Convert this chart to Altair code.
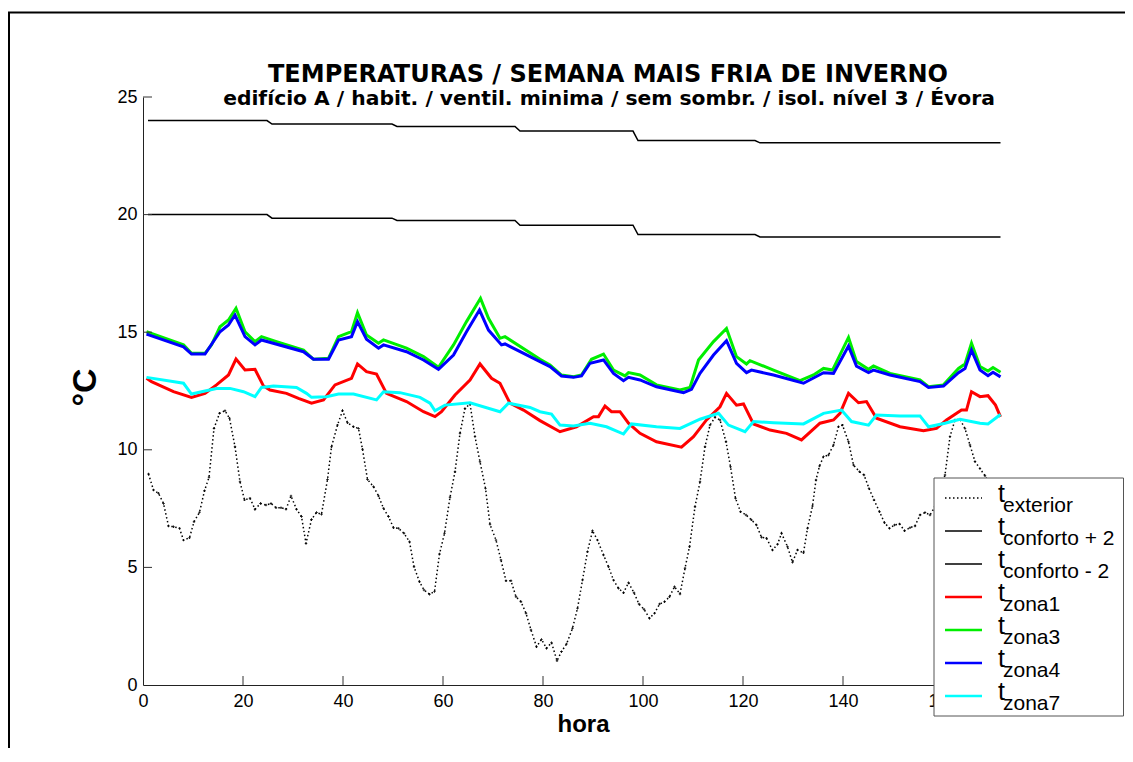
import altair as alt
import pandas as pd

TITLE = "TEMPERATURAS / SEMANA MAIS FRIA DE INVERNO"
SUBTITLE = "edifício A / habit. / ventil. minima / sem sombr. / isol. nível 3 / Évora"
X_TITLE = "hora"
Y_TITLE = "°C"

SERIES = ["exterior", "conforto + 2", "conforto - 2", "zona1", "zona3", "zona4", "zona7"]
LEG_MAIN = ["t", "t", "t", "t", "t", "t", "t"]
LEG_SUB = ["exterior", "conforto + 2", "conforto - 2", "zona1", "zona3", "zona4", "zona7"]
COLORS = ["#000000", "#000000", "#000000", "#ff0000", "#00ee00", "#0000ff", "#00ffff"]

X_TICKS = [0, 20, 40, 60, 80, 100, 120, 140, 160]
Y_TICKS = [0, 5, 10, 15, 20, 25]

# --- series (hour, °C) ---
ext_h = [1.1, 2.1, 3.1, 4.1, 5.1, 6.1, 7.3, 8.1, 9.3, 10.2, 11.3, 12.3, 13.2, 14.2, 15.3, 16.4, 17.3, 18.4, 19.4,
         20.3, 21.4, 22.4, 23.5, 24.6, 25.6, 26.6, 27.6, 28.6, 29.6, 30.7, 31.7, 32.6, 33.7, 34.7, 35.7, 36.9,
         37.7, 38.9, 39.9, 40.9, 42.1, 43.1, 43.9, 44.9, 46.1, 47.1, 48.1, 49.1, 50.1, 51.1, 52.2, 53.3, 54.2,
         55.3, 56.2, 57.3, 58.3, 59.3, 60.3, 61.4, 62.4, 63.4, 64.4, 65.4, 66.4, 67.4, 68.5, 69.4, 70.6, 71.6,
         72.6, 73.6, 74.6, 75.6, 76.6, 77.6, 78.7, 79.7, 80.7, 81.7, 82.8, 83.7, 84.7, 85.9, 86.9, 87.9, 88.9,
         89.9, 90.9, 92.1, 93.1, 94.1, 95.1, 96.1, 97.1, 98.2, 99.2, 100.2, 101.3, 102.3, 103.3, 104.3, 105.3,
         106.3, 107.4, 108.4, 109.3, 110.4, 111.4, 112.4, 113.4, 114.4, 115.4, 116.6, 117.5, 118.5, 119.5,
         120.6, 121.7, 122.7, 123.7, 124.7, 125.9, 126.9, 127.7, 128.9, 129.9, 130.9, 132.1, 132.9, 133.9,
         134.6, 135.3, 136.1, 137.1, 138.1, 139.1, 139.9, 141.1, 142.1, 143.3, 144.2, 145.2, 146.2, 147.3,
         148.3, 149.3, 150.3, 151.3, 152.3, 153.4, 154.4, 155.4, 156.4, 157.4, 158.4, 160.4, 161.4, 162.4,
         163.4, 164.4, 165.4, 166.4, 167.4, 168.4, 169.4]
ext_t = [8.97, 8.29, 8.15, 7.72, 6.76, 6.73, 6.66, 6.16, 6.26, 6.94, 7.34, 8.26, 8.83, 10.91, 11.55, 11.66, 11.34,
         10.13, 8.64, 7.87, 7.94, 7.47, 7.72, 7.65, 7.72, 7.54, 7.54, 7.47, 8.04, 7.47, 7.16, 6.02, 7.04, 7.33,
         7.26, 8.74, 10.13, 11.05, 11.66, 11.15, 10.98, 10.91, 10.02, 8.74, 8.43, 8.04, 7.51, 7.16, 6.69, 6.66,
         6.45, 6.09, 5.03, 4.39, 4.04, 3.86, 3.97, 5.57, 6.45, 7.98, 9.07, 10.70, 11.76, 11.95, 10.56, 9.49,
         8.36, 6.83, 6.16, 5.31, 4.43, 4.43, 3.75, 3.54, 3.05, 2.34, 1.63, 1.94, 1.56, 1.80, 1.03, 1.42, 1.74,
         2.41, 3.26, 4.46, 5.67, 6.56, 6.16, 5.53, 5.03, 4.46, 4.11, 3.92, 4.35, 3.92, 3.44, 3.22, 2.84, 3.05,
         3.44, 3.54, 3.75, 4.18, 3.87, 4.96, 5.88, 7.58, 8.64, 10.13, 11.05, 11.38, 11.27, 10.34, 9.28, 7.94,
         7.37, 7.23, 7.02, 6.80, 6.28, 6.24, 5.74, 5.98, 6.45, 5.88, 5.22, 5.74, 5.62, 6.66, 7.61, 8.72, 9.31,
         9.71, 9.78, 10.20, 10.98, 11.05, 10.34, 9.35, 9.07, 8.93, 8.36, 7.87, 7.37, 6.90, 6.66, 6.80, 6.85,
         6.56, 6.69, 6.76, 7.23, 7.33, 7.23, 7.58, 8.93, 10.56, 11.27, 11.30, 10.90, 10.20, 9.50, 9.20, 8.90,
         8.50]

conf_h = [1.0, 24.8, 25.8, 49.8, 50.8, 74.4, 75.4, 98.0, 99.0, 122.4, 123.4, 171.5]
conf_plus_t = [24.0, 24.0, 23.85, 23.85, 23.75, 23.75, 23.55, 23.55, 23.15, 23.15, 23.05, 23.05]
conf_minus_t = [20.0, 20.0, 19.85, 19.85, 19.75, 19.75, 19.55, 19.55, 19.15, 19.15, 19.05, 19.05]

z1_h = [0.7, 1.7, 6.1, 9.7, 12.4, 14.7, 17.1, 18.6, 20.4, 22.4, 24.1, 25.4, 28.7, 31.1, 33.7, 36.1, 38.4, 41.7,
        42.9, 44.7, 46.7, 48.7, 52.7, 56.1, 58.4, 59.7, 62.4, 65.4, 67.4, 69.7, 71.4, 73.4, 76.1, 79.4, 83.4,
        86.7, 90.1, 91.1, 92.4, 93.7, 95.4, 97.1, 99.4, 102.7, 107.7, 110.1, 112.7, 115.4, 116.7, 118.7, 120.1,
        122.1, 125.4, 128.7, 131.7, 135.4, 138.1, 139.4, 141.1, 143.1, 144.7, 146.7, 151.4, 156.1, 158.7,
        160.7, 163.7, 164.7, 165.7, 167.4, 169.0, 170.5, 171.5]
z1_t = [13.04, 12.90, 12.47, 12.23, 12.40, 12.76, 13.18, 13.86, 13.39, 13.42, 12.71, 12.54, 12.40, 12.19, 11.98,
        12.12, 12.76, 13.04, 13.65, 13.32, 13.22, 12.40, 12.05, 11.62, 11.41, 11.62, 12.33, 12.97, 13.65, 13.04,
        12.83, 11.98, 11.69, 11.24, 10.77, 10.98, 11.41, 11.41, 11.86, 11.62, 11.62, 11.13, 10.70, 10.34, 10.11,
        10.56, 11.27, 11.83, 12.40, 11.90, 11.95, 11.10, 10.84, 10.70, 10.42, 11.13, 11.27, 11.55, 12.40, 12.00,
        12.05, 11.34, 10.98, 10.81, 10.91, 11.27, 11.69, 11.69, 12.47, 12.26, 12.30, 11.90, 11.40]

z3_h = [0.7, 8.1, 9.7, 12.4, 13.7, 15.4, 17.1, 18.6, 20.4, 22.4, 23.7, 26.7, 32.1, 34.1, 37.1, 39.1, 41.7, 42.9,
        44.7, 47.1, 48.1, 52.7, 56.1, 59.1, 62.1, 64.7, 67.5, 69.1, 71.4, 72.4, 79.4, 81.4, 83.7, 86.1, 87.7,
        89.7, 92.1, 94.1, 96.4, 97.1, 99.4, 102.7, 107.4, 109.4, 111.1, 114.1, 116.7, 118.7, 120.7, 121.4,
        126.1, 131.4, 134.1, 136.1, 137.9, 141.1, 142.7, 145.1, 146.1, 149.4, 155.4, 157.1, 160.1, 163.1,
        164.4, 165.7, 167.4, 169.0, 170.0, 171.5]
z3_t = [15.02, 14.46, 14.10, 14.10, 14.46, 15.23, 15.52, 16.02, 15.02, 14.60, 14.81, 14.60, 14.24, 13.85, 13.89,
        14.81, 15.02, 15.83, 14.88, 14.53, 14.67, 14.32, 13.96, 13.51, 14.46, 15.45, 16.44, 15.59, 14.74, 14.81,
        13.85, 13.61, 13.18, 13.11, 13.18, 13.85, 14.07, 13.39, 13.14, 13.28, 13.18, 12.76, 12.54, 12.65, 13.82,
        14.60, 15.16, 13.96, 13.65, 13.79, 13.39, 12.94, 13.18, 13.46, 13.39, 14.78, 13.75, 13.42, 13.56, 13.25,
        12.97, 12.68, 12.76, 13.46, 13.65, 14.53, 13.54, 13.35, 13.50, 13.30]

z4_h = [0.7, 8.1, 9.7, 12.4, 15.4, 17.1, 18.4, 20.4, 22.4, 23.7, 32.1, 34.1, 37.1, 39.1, 41.7, 42.9, 44.7, 47.1,
        48.1, 52.7, 56.1, 59.1, 62.1, 64.7, 67.3, 69.1, 71.7, 72.4, 79.4, 81.4, 83.7, 86.1, 87.7, 89.4, 92.1,
        94.1, 96.1, 97.1, 99.4, 102.7, 108.1, 109.7, 111.4, 114.1, 116.7, 118.7, 120.7, 121.7, 126.1, 132.1,
        136.1, 138.1, 141.1, 142.7, 145.1, 146.1, 149.4, 155.4, 157.1, 160.1, 163.1, 164.4, 165.7, 167.4,
        169.0, 170.0, 171.5]
z4_t = [14.92, 14.38, 14.07, 14.07, 15.02, 15.31, 15.73, 14.81, 14.46, 14.67, 14.17, 13.85, 13.85, 14.67, 14.81,
        15.45, 14.70, 14.32, 14.46, 14.17, 13.82, 13.42, 14.03, 15.02, 15.94, 15.09, 14.46, 14.50, 13.75, 13.54,
        13.14, 13.08, 13.14, 13.68, 13.82, 13.25, 12.94, 13.08, 12.97, 12.68, 12.43, 12.57, 13.25, 14.03, 14.64,
        13.68, 13.28, 13.39, 13.18, 12.83, 13.28, 13.25, 14.41, 13.56, 13.28, 13.39, 13.18, 12.90, 12.65, 12.71,
        13.28, 13.46, 14.24, 13.39, 13.15, 13.30, 13.10]

z7_h = [0.7, 8.1, 9.7, 12.4, 14.7, 17.4, 20.1, 22.4, 23.7, 26.1, 30.7, 32.7, 33.7, 36.7, 39.1, 42.1, 46.7, 48.1,
        51.4, 55.4, 57.4, 58.4, 60.4, 65.4, 71.4, 73.1, 77.4, 79.4, 81.7, 83.4, 86.1, 89.4, 92.7, 96.1, 97.7,
        102.7, 107.4, 111.4, 115.1, 117.1, 120.4, 122.1, 126.1, 132.1, 136.1, 139.7, 141.7, 145.1, 146.7,
        151.4, 155.4, 157.1, 160.4, 163.4, 167.4, 169.0, 171.5]
z7_t = [13.08, 12.83, 12.37, 12.50, 12.61, 12.61, 12.47, 12.26, 12.65, 12.71, 12.65, 12.40, 12.23, 12.26, 12.37,
        12.37, 12.12, 12.47, 12.43, 12.23, 11.98, 11.66, 11.90, 12.00, 11.62, 11.98, 11.80, 11.62, 11.52, 11.05,
        11.01, 11.13, 10.98, 10.67, 11.10, 10.98, 10.91, 11.30, 11.55, 11.05, 10.77, 11.20, 11.15, 11.10, 11.55,
        11.69, 11.20, 11.05, 11.48, 11.44, 11.44, 10.98, 11.13, 11.30, 11.13, 11.10, 11.50]

SERIES_DATA = [
    (ext_h, ext_t), (conf_h, conf_plus_t), (conf_h, conf_minus_t),
    (z1_h, z1_t), (z3_h, z3_t), (z4_h, z4_t), (z7_h, z7_t),
]
# drawing styles (not data)
WIDTHS = [1.5, 1.5, 1.5, 3, 3, 3, 3]
DASHES = [[1.5, 2.5], None, None, None, None, None, None]

CSCALE = alt.Scale(domain=SERIES, range=COLORS)
COLOR = alt.Color("series:N", scale=CSCALE, legend=None)

AX = alt.Axis(values=X_TICKS, ticks=False, grid=False, labelFlush=False, labelOverlap=False,
              labelFont="Liberation Sans", labelFontSize=18, labelColor="black", labelPadding=7,
              domainColor="#222222", domainWidth=1,
              title=X_TITLE, titleFont="Liberation Sans", titleFontSize=24, titleFontWeight="bold",
              titleColor="black", titleX=440, titleY=46, titleAlign="center", titleBaseline="alphabetic")
AY = alt.Axis(values=Y_TICKS, ticks=False, grid=False, labelFlush=False, labelOverlap=False,
              labelFont="Liberation Sans", labelFontSize=18, labelColor="black", labelPadding=6,
              domainColor="#222222", domainWidth=1,
              title=Y_TITLE, titleFont="Liberation Sans", titleFontSize=34, titleFontWeight="bold",
              titleColor="black", titleX=-58, titleY=290, titleAngle=270, titleAlign="center",
              titleBaseline="middle")
X_ENC = alt.X("hour:Q", scale=alt.Scale(domain=[0, 180], nice=False, zero=False), axis=AX)
Y_ENC = alt.Y("temp:Q", scale=alt.Scale(domain=[0, 25], nice=False), axis=AY)

one = pd.DataFrame({"k": [0]})
main_layers = []

# figure frame (left and top edges of the figure border)
main_layers.append(alt.Chart(one).mark_rule(color="black", strokeWidth=2).encode(
    x=alt.value(-134), y=alt.value(-85), y2=alt.value(700)))
main_layers.append(alt.Chart(one).mark_rule(color="black", strokeWidth=2).encode(
    x=alt.value(-135), x2=alt.value(1000), y=alt.value(-84.5)))

for (h, t), name, w, d in zip(SERIES_DATA, SERIES, WIDTHS, DASHES):
    df = pd.DataFrame({"hour": h, "temp": t, "series": name})
    kw = dict(strokeWidth=w)
    if d is not None:
        kw["strokeDash"] = d
    main_layers.append(alt.Chart(df).mark_line(**kw).encode(x=X_ENC, y=Y_ENC, color=COLOR))
    if name == "exterior":
        main_layers.append(alt.Chart(df).mark_point(shape="cross", size=6, filled=True, opacity=0.9,
                                                    color="black").encode(x=X_ENC, y=Y_ENC))

# inward ticks
xt = pd.DataFrame({"hour": X_TICKS[1:]})
yt = pd.DataFrame({"temp": Y_TICKS[1:]})
main_layers.append(alt.Chart(xt).mark_rule(color="#333333", strokeWidth=1).encode(
    x=X_ENC, y=alt.value(588), y2=alt.value(579)))
main_layers.append(alt.Chart(yt).mark_rule(color="#333333", strokeWidth=1).encode(
    y=Y_ENC, x=alt.value(0), x2=alt.value(9)))

# titles
main_layers.append(alt.Chart(pd.DataFrame({"txt": [TITLE]})).mark_text(
    font="DejaVu Sans", fontSize=24, fontWeight="bold", color="black", align="center",
    baseline="alphabetic").encode(x=alt.value(465), y=alt.value(-15), text="txt:N"))
main_layers.append(alt.Chart(pd.DataFrame({"txt": [SUBTITLE]})).mark_text(
    font="DejaVu Sans", fontSize=20.3, fontWeight="bold", color="black", align="center",
    baseline="alphabetic").encode(x=alt.value(466), y=alt.value(8), text="txt:N"))

# legend box
main_layers.append(alt.Chart(one).mark_rect(
    fill="white", stroke="#555555", strokeWidth=1).encode(
    x=alt.value(791), x2=alt.value(980.5), y=alt.value(381), y2=alt.value(619)))

main = alt.layer(*main_layers)

leg_df = pd.DataFrame({"row": list(range(len(SERIES))), "series": SERIES, "t": LEG_MAIN, "sub": LEG_SUB})
LEG_Y = alt.Y("row:Q", scale=alt.Scale(domain=[0, 6], range=[401, 599], nice=False, zero=False), axis=None)
leg_layers = []
for i, (w, d) in enumerate(zip(WIDTHS, DASHES)):
    kw = dict(strokeWidth=min(w, 2.5))
    if d is not None:
        kw["strokeDash"] = d
    leg_layers.append(alt.Chart(leg_df.iloc[[i]]).mark_rule(**kw).encode(
        x=alt.value(802), x2=alt.value(839), y=LEG_Y, color=COLOR))
leg_layers.append(alt.Chart(leg_df).mark_text(
    font="Liberation Sans", fontSize=25, color="black", align="left", baseline="alphabetic", dy=4).encode(
    x=alt.value(855), y=LEG_Y, text="t:N"))
leg_layers.append(alt.Chart(leg_df).mark_text(
    font="Liberation Sans", fontSize=21, color="black", align="left", baseline="alphabetic", dy=14).encode(
    x=alt.value(860), y=LEG_Y, text="sub:N"))
legend = alt.layer(*leg_layers)

chart = alt.layer(main, legend).resolve_scale(y="independent").properties(
    width=900, height=588,
    autosize=alt.AutoSizeParams(type="none"),
    padding={"left": 135, "top": 89, "right": 82, "bottom": 63},
    background="white",
).configure_view(stroke=None)

chart.save("out.html", embed_options={"renderer": "svg", "actions": False})
